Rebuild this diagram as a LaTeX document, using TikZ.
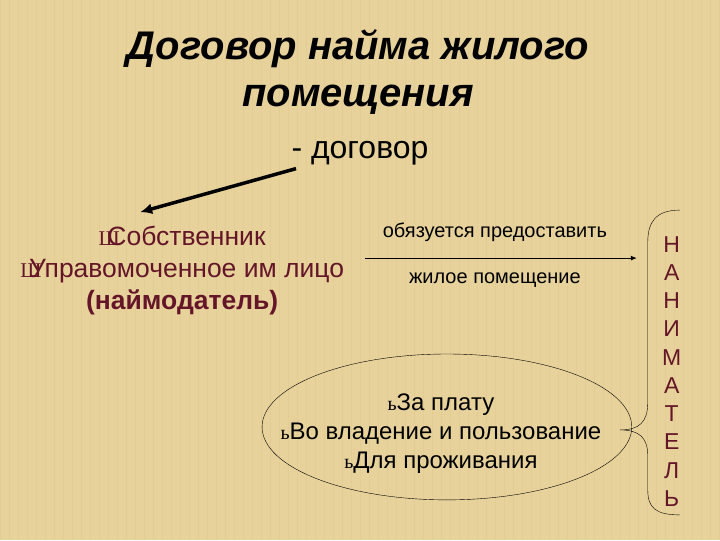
\documentclass[tikz,border=0pt]{standalone}
\usepackage{fontspec}
\setmainfont{Liberation Sans}
\newfontfamily\markfont{Liberation Serif}
\usetikzlibrary{shapes.geometric}
\usetikzlibrary{arrows.meta}

\definecolor{paper}{RGB}{231,210,155}
\definecolor{wine}{RGB}{100,22,40}

\begin{document}
\begin{tikzpicture}
[x=1bp, y=-1bp,
title/.style   = {font=\fontsize{40bp}{47bp}\selectfont\bfseries\itshape, align=center},
plain/.style   = {font=\fontsize{32bp}{38bp}\selectfont},
party/.style   = {text=wine, font=\fontsize{26.5bp}{32bp}\selectfont, align=center},
small/.style   = {font=\fontsize{20bp}{24bp}\selectfont},
terms/.style   = {ellipse, draw, thin, minimum width=370bp, minimum height=146bp, inner sep=0pt},
termtext/.style= {font=\fontsize{24bp}{29bp}\selectfont, align=center},
letter/.style  = {text=wine, font=\fontsize{23bp}{28bp}\selectfont},
line/.style    = {draw, thick, -{Latex[length=6bp,width=5bp]}},
bigarrow/.style= {draw, line width=3.5bp, -{Latex[length=12bp,width=11bp]}}
]

\fill[paper] (0,0) rectangle (720,540);
\draw[paper!88!brown, line width=0.6bp, opacity=0.5] (0,0) grid[step=9] (720,540);
\useasboundingbox (0,0) rectangle (720,540);

% heading
\node [title] (heading) at (358,72) {Договор найма жилого\\помещения};
\node [plain] (dogovor) at (360,153) {- договор};

% left side
\node [party] (lessor) at (182,270)
  {\makebox[0.33em][l]{\markfont\fontsize{21bp}{21bp}\selectfont Ш}Собственник\\
   \makebox[0.33em][l]{\markfont\fontsize{21bp}{21bp}\selectfont Ш}Управомоченное им лицо\\
   \textbf{(наймодатель)}};
\coordinate (lessor_tip) at (140,212);

% middle
\coordinate (give_start) at (365,258);
\coordinate (give_end) at (637,258);
\node [small] (give_top) at (495,232) {обязуется предоставить};
\node [small] (give_bottom) at (495,280) {жилое помещение};

\node [terms] (conditions) at (447,427) {};
\node [termtext] (conditions_text) at (441,434)
  {{\markfont\fontsize{20bp}{20bp}\selectfont ь}За плату\\
   {\markfont\fontsize{20bp}{20bp}\selectfont ь}Во владение и пользование\\
   {\markfont\fontsize{20bp}{20bp}\selectfont ь}Для проживания};

% right side
\foreach \ch [count=\i from 0] in {Н,А,Н,И,М,А,Т,Е,Л,Ь}
  \node [letter] (tenant_\i) at (672,244+28.3*\i) {\ch};

\coordinate (brace_top) at (680,210);
\coordinate (brace_tip) at (620,430);
\coordinate (brace_bottom) at (680,515);

\begin{scope}[every path/.style=line]
\path (give_start) -- (give_end);
\end{scope}
\draw [bigarrow] ([shift={(8,0)}]dogovor.south west) -- (lessor_tip);

\draw [thin] (brace_top) .. controls (656,210) and (648,222) .. (648,242)
  -- (648,402) .. controls (648,422) and (640,430) .. (brace_tip)
  .. controls (640,430) and (648,438) .. (648,456)
  -- (648,490) .. controls (648,508) and (656,515) .. (brace_bottom);

\end{tikzpicture}
\end{document}
